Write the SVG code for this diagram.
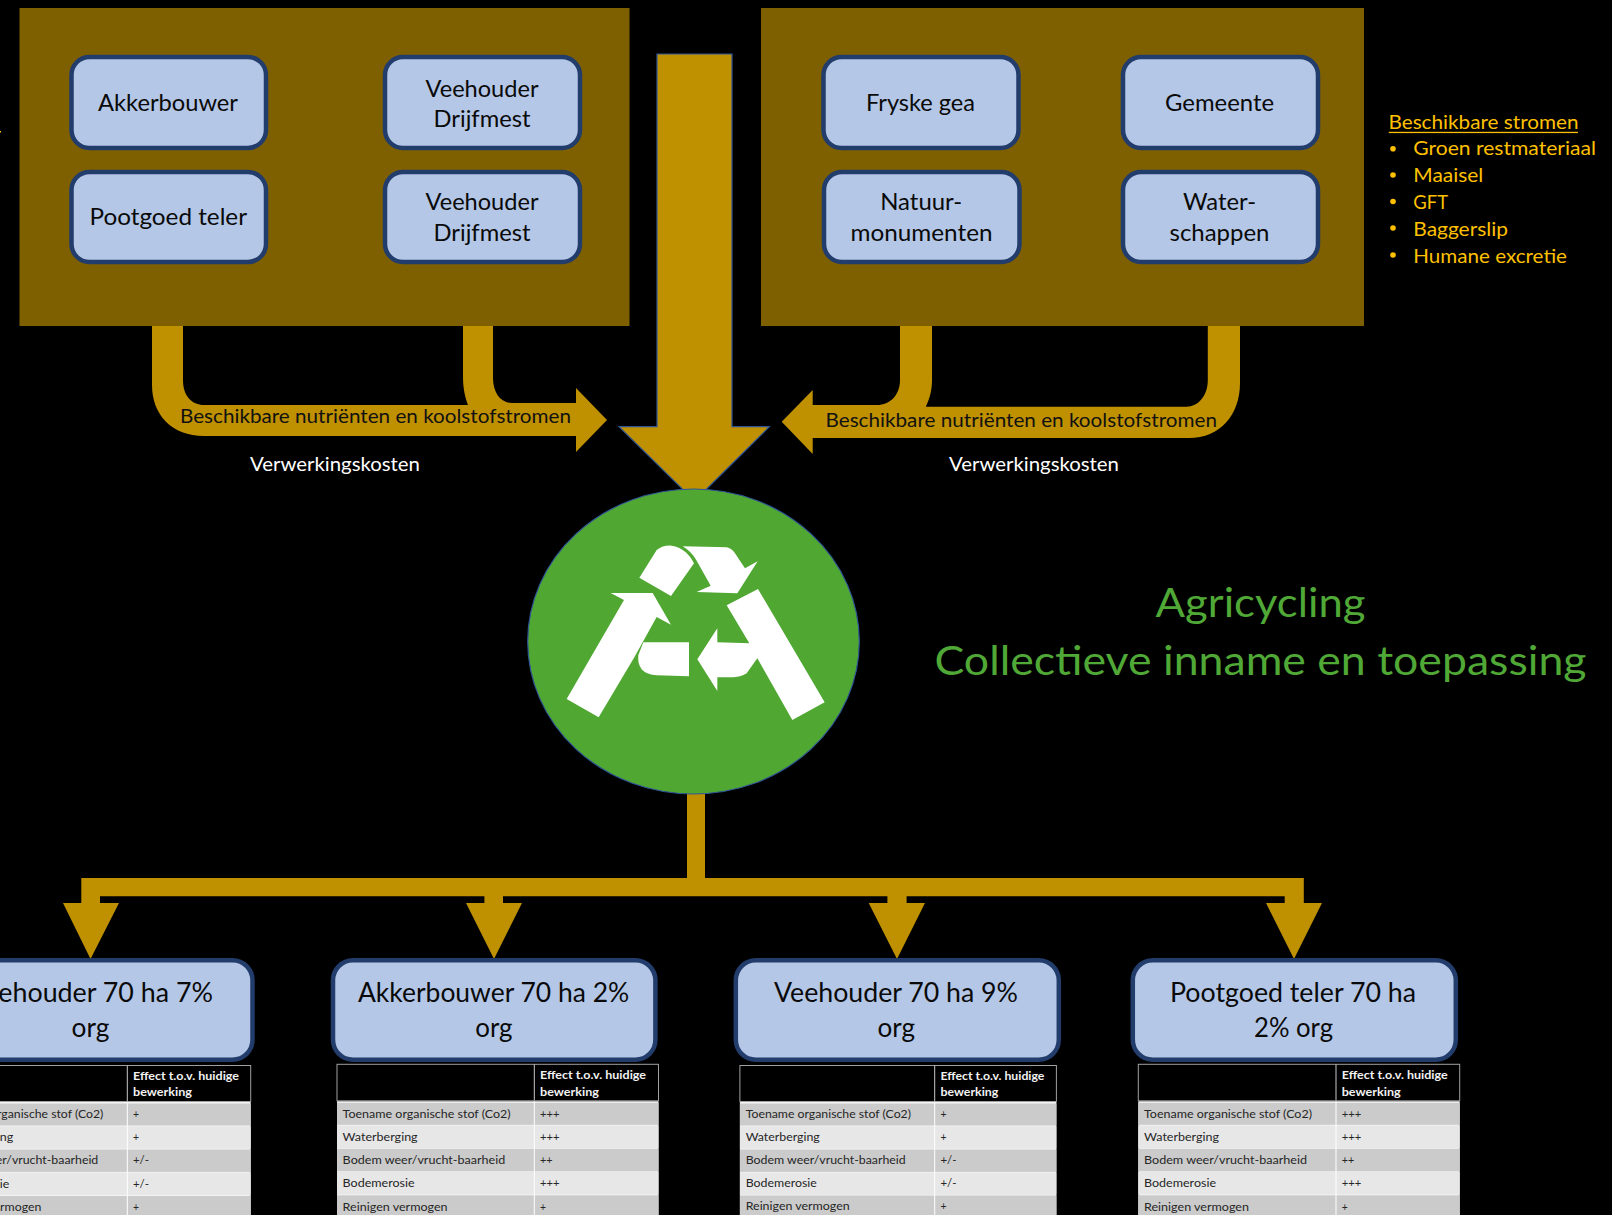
<svg xmlns="http://www.w3.org/2000/svg" width="1612" height="1215" viewBox="0 0 1612 1215">
<style>
text{font-family:"Lato","Liberation Sans",sans-serif;}
.panel{fill:#7f6000;}
.node{fill:#b4c7e7;stroke:#223c6b;stroke-width:4.5;}
.nt{font-size:23px;fill:#0a0a0a;}
.nb{font-size:26px;fill:#0a0a0a;}
.flow{fill:#bf9000;}
.fl{font-size:18.5px;fill:#111;}
.wl{font-size:18.5px;fill:#fff;}
.ol{font-size:19px;fill:#ffc000;}
.gt{font-size:40px;fill:#50a836;}
.hd{fill:#000;stroke:#a0a0a0;stroke-width:1;}
.sep{stroke:#c8c8c8;stroke-width:1;}
.un{fill:#f4f4f4;}
.r1{fill:#cbcbcb;}
.r2{fill:#e7e7e7;}
.th{font-size:12px;font-weight:700;fill:#f2f2f2;}
.td{font-size:12px;fill:#262626;}
.v{stroke:#fff;stroke-width:1;}
</style>
<rect width="1612" height="1215" fill="#000"/>
<rect x="0" y="131" width="1" height="1.5" fill="#ffc000"/>

<g id="panel-left"><rect class="panel" x="19.5" y="8" width="610" height="318"/></g>
<g id="panel-right"><rect class="panel" x="761" y="8" width="603" height="318"/></g>

<g id="connectors">
<path class="flow" d="M152 326V385C152 415 172 436 204 436H576V452L607 420L576 388V403H512C500 403 493 392 493 378V326H463V377C463 388 465 397 468 405H204C192 405 183 396 183 380V326Z"/>
<path class="flow" d="M1240 326V383C1240 415 1220 438 1189 438H812.7V454L781.7 421.7L812.7 390V405H877C890 405 900 395 900 380V326H932V380C932 390 930 398 925.8 406.7H1186.6C1198 406.7 1207.8 396 1207.8 380V326Z"/>
<path d="M657 54H732V426.7H769.4L694.5 501L619 426.7H657Z" fill="#bf9000" stroke="#2f5597" stroke-width="1.2"/>
<path class="flow" d="M687 790H705V878H1303.8V903H1322L1294 959L1266 903H1284.7V896.3H906.6V903H925L897 959L868.7 903H887.4V896.3H503V903H522L494 959L466 903H484.4V896.3H100V903H119L90.5 959L63 903H81.3V878H687Z"/>
</g>

<g id="node-akkerbouwer"><rect class="node" x="71.5" y="57" width="194.5" height="91" rx="18"/><text class="nt" x="98" y="110.7" textLength="140" lengthAdjust="spacingAndGlyphs">Akkerbouwer</text></g>
<g id="node-veehouder-1"><rect class="node" x="385" y="57" width="195" height="91" rx="18"/><text class="nt" x="425.500" y="96.500" textLength="113" lengthAdjust="spacingAndGlyphs">Veehouder</text><text class="nt" x="433.500" y="127" textLength="97" lengthAdjust="spacingAndGlyphs">Drijfmest</text></g>
<g id="node-pootgoed"><rect class="node" x="71.5" y="172" width="194.5" height="90" rx="18"/><text class="nt" x="89.500" y="225" textLength="157.500" lengthAdjust="spacingAndGlyphs">Pootgoed teler</text></g>
<g id="node-veehouder-2"><rect class="node" x="385" y="172" width="195" height="90" rx="18"/><text class="nt" x="425.500" y="210" textLength="113" lengthAdjust="spacingAndGlyphs">Veehouder</text><text class="nt" x="433.500" y="240.500" textLength="97" lengthAdjust="spacingAndGlyphs">Drijfmest</text></g>
<g id="node-fryske"><rect class="node" x="823.5" y="57" width="195" height="91" rx="18"/><text class="nt" x="866" y="110.7" textLength="109" lengthAdjust="spacingAndGlyphs">Fryske gea</text></g>
<g id="node-gemeente"><rect class="node" x="1123" y="57" width="195" height="91" rx="18"/><text class="nt" x="1165" y="110.7" textLength="109" lengthAdjust="spacingAndGlyphs">Gemeente</text></g>
<g id="node-natuur"><rect class="node" x="824" y="172" width="195.500" height="90" rx="18"/><text class="nt" x="880.200" y="210" textLength="82" lengthAdjust="spacingAndGlyphs">Natuur-</text><text class="nt" x="850.500" y="240.500" textLength="142" lengthAdjust="spacingAndGlyphs">monumenten</text></g>
<g id="node-water"><rect class="node" x="1123" y="172" width="195" height="90" rx="18"/><text class="nt" x="1183" y="210" textLength="73" lengthAdjust="spacingAndGlyphs">Water-</text><text class="nt" x="1169.500" y="240.500" textLength="100" lengthAdjust="spacingAndGlyphs">schappen</text></g>

<g id="labels-flow">
<text class="fl" x="180" y="423.3" textLength="391" lengthAdjust="spacingAndGlyphs">Beschikbare nutriënten en koolstofstromen</text>
<text class="wl" x="250" y="470.7" textLength="170" lengthAdjust="spacingAndGlyphs">Verwerkingskosten</text>
<text class="fl" x="825.500" y="427.3" textLength="391.500" lengthAdjust="spacingAndGlyphs">Beschikbare nutriënten en koolstofstromen</text>
<text class="wl" x="949" y="470.7" textLength="170" lengthAdjust="spacingAndGlyphs">Verwerkingskosten</text>
</g>

<g id="stromen">
<text class="ol" x="1388.5" y="128.500" textLength="190" lengthAdjust="spacingAndGlyphs">Beschikbare stromen</text>
<rect x="1388.8" y="131.8" width="189.200" height="1.300" fill="#ffc000"/>
<circle cx="1393" cy="148.700" r="2.800" fill="#ffc000"/><text class="ol" x="1413.300" y="155" textLength="182.700" lengthAdjust="spacingAndGlyphs">Groen restmateriaal</text>
<circle cx="1393" cy="175" r="2.800" fill="#ffc000"/><text class="ol" x="1413.300" y="182" textLength="70" lengthAdjust="spacingAndGlyphs">Maaisel</text>
<circle cx="1393" cy="201.500" r="2.800" fill="#ffc000"/><text class="ol" x="1413.300" y="209" textLength="34.700" lengthAdjust="spacingAndGlyphs">GFT</text>
<circle cx="1393" cy="228" r="2.800" fill="#ffc000"/><text class="ol" x="1413.300" y="235.700" textLength="94.700" lengthAdjust="spacingAndGlyphs">Baggerslip</text>
<circle cx="1393" cy="255" r="2.800" fill="#ffc000"/><text class="ol" x="1413.300" y="262.700" textLength="153.700" lengthAdjust="spacingAndGlyphs">Humane excretie</text>
</g>

<g id="node-agricycling">
<ellipse cx="693.5" cy="641.5" rx="165.800" ry="152.500" fill="#50a833" stroke="#2f5597" stroke-width="1.200"/>
<g transform="translate(500 470) scale(0.33333)" fill="#fff">
<path d="M418 323L470 240Q490 225 515 227Q560 235 582 280L513 378Z"/>
<path d="M548 229L680 232Q695 235 705 250L735 295L773 274L712 370L590 366L632 347L590 272Q575 245 548 229Z"/>
<path d="M200 687L372 390L332 369L458 369L513 464L470 441L403 562L296 742Z"/>
<path d="M430 517L567 517V619L470 616Q440 615 425 598Q412 580 415 555Z"/>
<path d="M592 568L652 475V517L748 520L680 406L774 357L974 697L877 750L772 565L740 610Q725 620 700 622L652 622V663Z"/>
</g>
</g>

<g id="title">
<text class="gt" x="1155.500" y="617.3" textLength="210" lengthAdjust="spacingAndGlyphs">Agricycling</text>
<text class="gt" x="934.500" y="675" textLength="652" lengthAdjust="spacingAndGlyphs">Collectieve inname en toepassing</text>
</g>

<g id="node-veehouder-7">
<rect class="node" x="-70" y="960.200" width="322.500" height="99.500" rx="20"/>
<text class="nb" x="-32" y="1001.7" textLength="245" lengthAdjust="spacingAndGlyphs">Veehouder 70 ha 7%</text>
<text class="nb" x="71.500" y="1037" textLength="37.800" lengthAdjust="spacingAndGlyphs">org</text>
</g>
<g id="node-akkerbouwer-2">
<rect class="node" x="333" y="960.200" width="322.400" height="99.500" rx="20"/>
<text class="nb" x="358" y="1001.7" textLength="271.200" lengthAdjust="spacingAndGlyphs">Akkerbouwer 70 ha 2%</text>
<text class="nb" x="475.300" y="1037" textLength="37.300" lengthAdjust="spacingAndGlyphs">org</text>
</g>
<g id="node-veehouder-9">
<rect class="node" x="735.800" y="960.200" width="323" height="99.500" rx="20"/>
<text class="nb" x="774" y="1001.7" textLength="244" lengthAdjust="spacingAndGlyphs">Veehouder 70 ha 9%</text>
<text class="nb" x="877.500" y="1037" textLength="37.500" lengthAdjust="spacingAndGlyphs">org</text>
</g>
<g id="node-pootgoed-2">
<rect class="node" x="1132.800" y="960.200" width="323" height="99.500" rx="20"/>
<text class="nb" x="1170" y="1001.7" textLength="246" lengthAdjust="spacingAndGlyphs">Pootgoed teler 70 ha</text>
<text class="nb" x="1254" y="1037" textLength="79" lengthAdjust="spacingAndGlyphs">2% org</text>
</g>

<g id="table-1" transform="translate(127.300 1065.500)">
<rect class="hd" x="-195" y="0" width="318.400" height="36"/><path class="sep" d="M0 0V36"/>
<rect class="un" x="-195" y="36.500" width="318.400" height="114"/>
<rect class="r1" x="-195" y="38" width="318.400" height="22"/><rect class="r2" x="-195" y="60.800" width="318.400" height="22.400"/><rect class="r1" x="-195" y="84" width="318.400" height="22.400"/><rect class="r2" x="-195" y="107" width="318.400" height="22.500"/><rect class="r1" x="-195" y="130.500" width="318.400" height="20"/>
<path class="v" d="M0 37V150"/>
<text class="th" x="5.700" y="14.700" textLength="106" lengthAdjust="spacingAndGlyphs">Effect t.o.v. huidige</text><text class="th" x="5.700" y="30.500" textLength="59" lengthAdjust="spacingAndGlyphs">bewerking</text>
<text class="td" x="-189" y="52.500" textLength="165" lengthAdjust="spacingAndGlyphs">Toename organische stof (Co2)</text><text class="td" x="5.700" y="52.500" textLength="6" lengthAdjust="spacingAndGlyphs">+</text>
<text class="td" x="-189" y="75.500" textLength="75" lengthAdjust="spacingAndGlyphs">Waterberging</text><text class="td" x="5.700" y="75.500" textLength="6" lengthAdjust="spacingAndGlyphs">+</text>
<text class="td" x="-189" y="98.500" textLength="160" lengthAdjust="spacingAndGlyphs">Bodem weer/vrucht-baarheid</text><text class="td" x="5.700" y="98.500" textLength="16" lengthAdjust="spacingAndGlyphs">+/-</text>
<text class="td" x="-189" y="122" textLength="71" lengthAdjust="spacingAndGlyphs">Bodemerosie</text><text class="td" x="5.700" y="122" textLength="16" lengthAdjust="spacingAndGlyphs">+/-</text>
<text class="td" x="-189" y="145.500" textLength="103" lengthAdjust="spacingAndGlyphs">Reinigen vermogen</text><text class="td" x="5.700" y="145.500" textLength="6" lengthAdjust="spacingAndGlyphs">+</text>
</g>

<g id="table-2" transform="translate(534.300 1064.300)">
<rect class="hd" x="-197.300" y="0" width="321.500" height="36.500"/><path class="sep" d="M0 0V36"/>
<rect class="un" x="-197.300" y="37" width="321.500" height="114"/>
<rect class="r1" x="-197.300" y="38.500" width="321.500" height="22"/><rect class="r2" x="-197.300" y="61.300" width="321.500" height="22.500"/><rect class="r1" x="-197.300" y="84.500" width="321.500" height="22.500"/><rect class="r2" x="-197.300" y="107.700" width="321.500" height="22.500"/><rect class="r1" x="-197.300" y="131" width="321.500" height="20"/>
<path class="v" d="M0 37V151"/>
<text class="th" x="5.700" y="15.200" textLength="106" lengthAdjust="spacingAndGlyphs">Effect t.o.v. huidige</text><text class="th" x="5.700" y="31.500" textLength="59" lengthAdjust="spacingAndGlyphs">bewerking</text>
<text class="td" x="-191.700" y="53.400" textLength="168" lengthAdjust="spacingAndGlyphs">Toename organische stof (Co2)</text><text class="td" x="5.700" y="53.400" textLength="19.500" lengthAdjust="spacingAndGlyphs">+++</text>
<text class="td" x="-191.700" y="76.700" textLength="75" lengthAdjust="spacingAndGlyphs">Waterberging</text><text class="td" x="5.700" y="76.700" textLength="19.500" lengthAdjust="spacingAndGlyphs">+++</text>
<text class="td" x="-191.700" y="99.700" textLength="162.600" lengthAdjust="spacingAndGlyphs">Bodem weer/vrucht-baarheid</text><text class="td" x="5.700" y="99.700" textLength="12.500" lengthAdjust="spacingAndGlyphs">++</text>
<text class="td" x="-191.700" y="123" textLength="72" lengthAdjust="spacingAndGlyphs">Bodemerosie</text><text class="td" x="5.700" y="123" textLength="19.500" lengthAdjust="spacingAndGlyphs">+++</text>
<text class="td" x="-191.700" y="146.700" textLength="105" lengthAdjust="spacingAndGlyphs">Reinigen vermogen</text><text class="td" x="5.700" y="146.700" textLength="6" lengthAdjust="spacingAndGlyphs">+</text>
</g>

<g id="table-3" transform="translate(934.700 1065.500)">
<rect class="hd" x="-194.800" y="0" width="316.500" height="36"/><path class="sep" d="M0 0V36"/>
<rect class="un" x="-194.800" y="36.500" width="316.500" height="114"/>
<rect class="r1" x="-194.800" y="38" width="316.500" height="22"/><rect class="r2" x="-194.800" y="60.800" width="316.500" height="22.400"/><rect class="r1" x="-194.800" y="84" width="316.500" height="22.400"/><rect class="r2" x="-194.800" y="107" width="316.500" height="22.300"/><rect class="r1" x="-194.800" y="130" width="316.500" height="20"/>
<path class="v" d="M0 37V150"/>
<text class="th" x="5.700" y="14.700" textLength="104" lengthAdjust="spacingAndGlyphs">Effect t.o.v. huidige</text><text class="th" x="5.700" y="30.500" textLength="58" lengthAdjust="spacingAndGlyphs">bewerking</text>
<text class="td" x="-189" y="52.200" textLength="165.300" lengthAdjust="spacingAndGlyphs">Toename organische stof (Co2)</text><text class="td" x="5.700" y="52.200" textLength="6" lengthAdjust="spacingAndGlyphs">+</text>
<text class="td" x="-189" y="75.500" textLength="74" lengthAdjust="spacingAndGlyphs">Waterberging</text><text class="td" x="5.700" y="75.500" textLength="6" lengthAdjust="spacingAndGlyphs">+</text>
<text class="td" x="-189" y="98" textLength="160" lengthAdjust="spacingAndGlyphs">Bodem weer/vrucht-baarheid</text><text class="td" x="5.700" y="98" textLength="16" lengthAdjust="spacingAndGlyphs">+/-</text>
<text class="td" x="-189" y="121.300" textLength="71" lengthAdjust="spacingAndGlyphs">Bodemerosie</text><text class="td" x="5.700" y="121.300" textLength="16" lengthAdjust="spacingAndGlyphs">+/-</text>
<text class="td" x="-189" y="144.500" textLength="104" lengthAdjust="spacingAndGlyphs">Reinigen vermogen</text><text class="td" x="5.700" y="144.500" textLength="6" lengthAdjust="spacingAndGlyphs">+</text>
</g>

<g id="table-4" transform="translate(1336 1064.300)">
<rect class="hd" x="-197.700" y="0" width="321.400" height="36.500"/><path class="sep" d="M0 0V36"/>
<rect class="un" x="-197.700" y="37" width="321.400" height="114"/>
<rect class="r1" x="-197.700" y="38.500" width="321.400" height="22"/><rect class="r2" x="-197.700" y="61.300" width="321.400" height="22.500"/><rect class="r1" x="-197.700" y="84.500" width="321.400" height="22.500"/><rect class="r2" x="-197.700" y="107.700" width="321.400" height="22.500"/><rect class="r1" x="-197.700" y="131" width="321.400" height="20"/>
<path class="v" d="M0 37V151"/>
<text class="th" x="5.700" y="15.200" textLength="106" lengthAdjust="spacingAndGlyphs">Effect t.o.v. huidige</text><text class="th" x="5.700" y="31.500" textLength="59" lengthAdjust="spacingAndGlyphs">bewerking</text>
<text class="td" x="-192" y="53.400" textLength="168" lengthAdjust="spacingAndGlyphs">Toename organische stof (Co2)</text><text class="td" x="5.700" y="53.400" textLength="19.500" lengthAdjust="spacingAndGlyphs">+++</text>
<text class="td" x="-192" y="76.700" textLength="75" lengthAdjust="spacingAndGlyphs">Waterberging</text><text class="td" x="5.700" y="76.700" textLength="19.500" lengthAdjust="spacingAndGlyphs">+++</text>
<text class="td" x="-192" y="99.700" textLength="163" lengthAdjust="spacingAndGlyphs">Bodem weer/vrucht-baarheid</text><text class="td" x="5.700" y="99.700" textLength="12.500" lengthAdjust="spacingAndGlyphs">++</text>
<text class="td" x="-192" y="123" textLength="72" lengthAdjust="spacingAndGlyphs">Bodemerosie</text><text class="td" x="5.700" y="123" textLength="19.500" lengthAdjust="spacingAndGlyphs">+++</text>
<text class="td" x="-192" y="146.700" textLength="105" lengthAdjust="spacingAndGlyphs">Reinigen vermogen</text><text class="td" x="5.700" y="146.700" textLength="6" lengthAdjust="spacingAndGlyphs">+</text>
</g>
</svg>
